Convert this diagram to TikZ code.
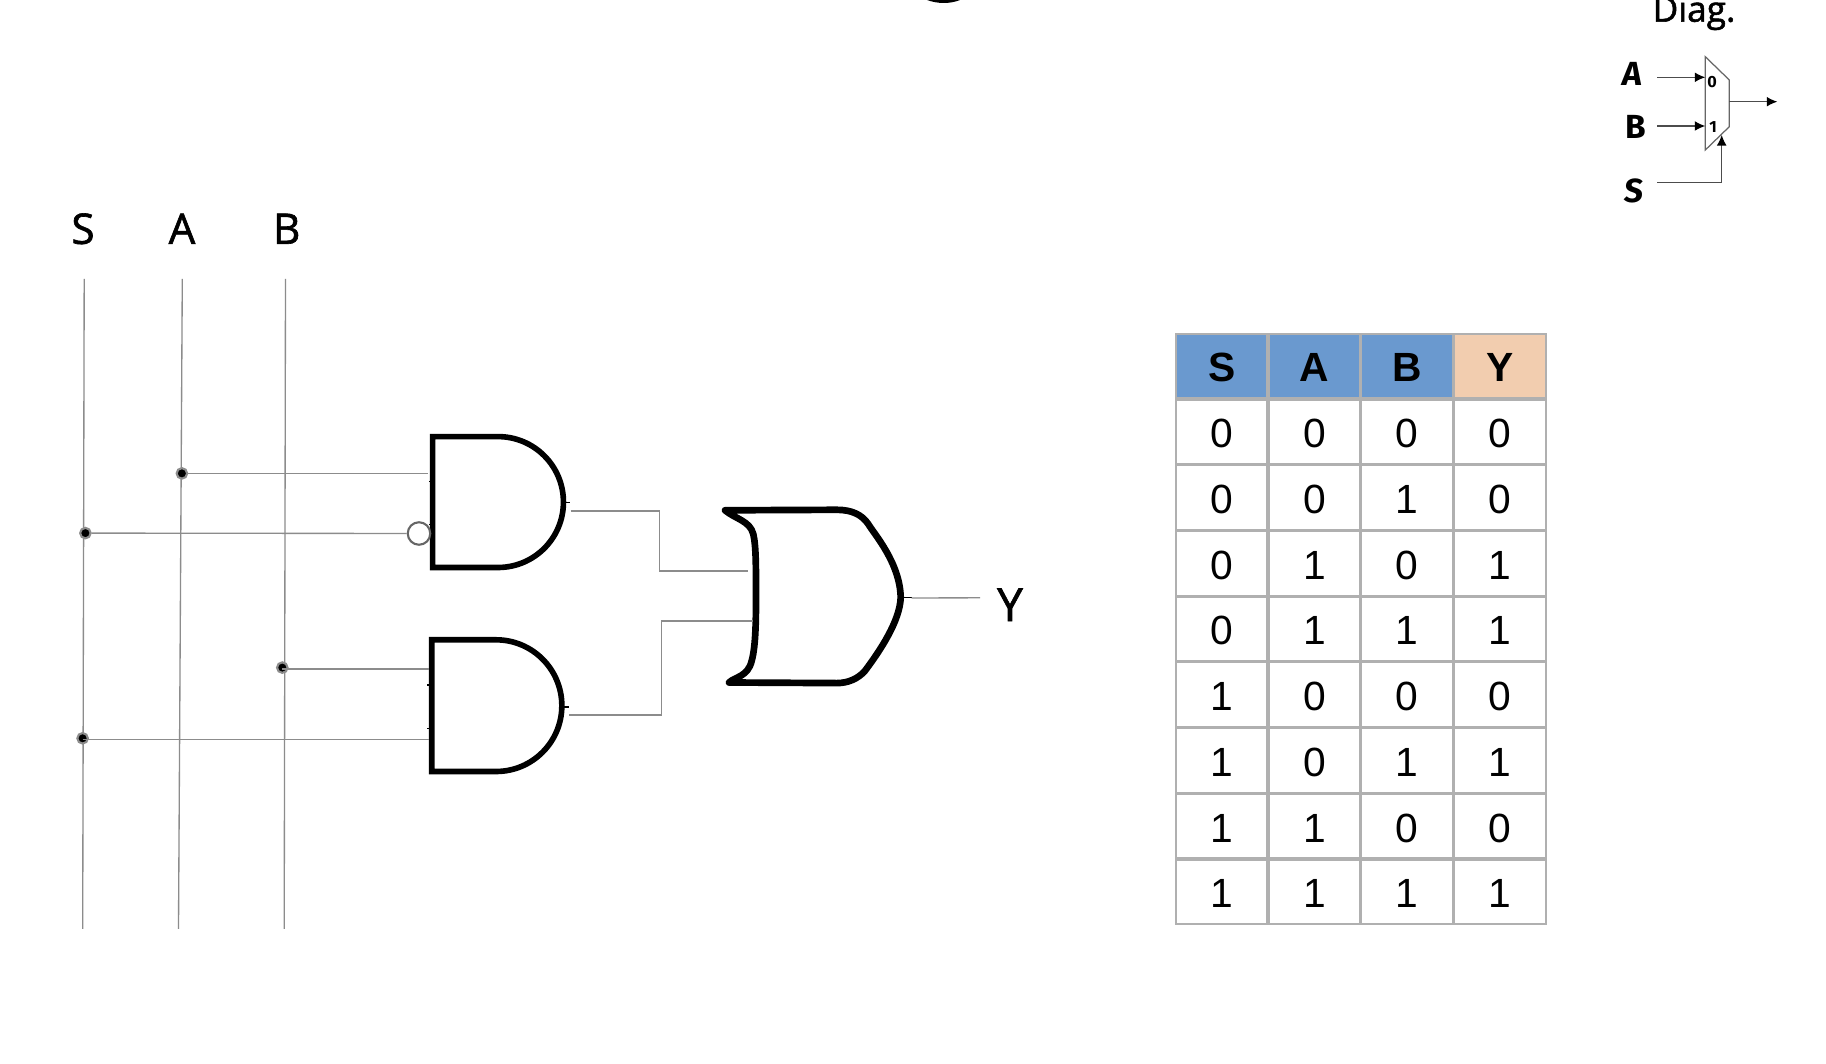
\documentclass[tikz,border=0pt]{standalone}
\usepackage{fontspec}
\newfontfamily\labelfont[RawFeature={embolden=1.5}]{Open Sans}
\newfontfamily\tablefont{Liberation Sans}
\newfontfamily\muxfont{Fira Sans}
\usetikzlibrary{arrows.meta, matrix}
\definecolor{headblue}{HTML}{6A99CF}
\definecolor{headtan}{HTML}{F2CDAF}
\definecolor{wiregray}{HTML}{8C8C8C}
\definecolor{cellgray}{HTML}{B0B0B0}
\tikzset{
	wire/.style = {draw = wiregray, line width = 0.38pt},
	gate/.style = {draw = black, line width = 1.6pt, line join = miter},
	orgate/.style = {draw = black, line width = 1.9pt, line join = round},
	tick/.style = {draw = black, line width = 0.4pt},
	joint/.style = {circle, fill = black, draw = black!45, line width = 0.6pt, inner sep = 0, minimum size = 0.105 cm},
	bubble/.style = {circle, draw = black!60, line width = 0.6pt, fill = white, inner sep = 0, minimum size = 0.225 cm},
	biglabel/.style = {font = \labelfont\fontsize{12}{14}\selectfont},
	muxlabel/.style = {font = \muxfont\bfseries\fontsize{9.5}{11}\selectfont},
	muxpin/.style = {font = \muxfont\bfseries\fontsize{4.6}{6}\selectfont, inner sep = 0},
	muxarrow/.style = {draw = black!70, line width = 0.35pt, -{Latex[length = 3pt, width = 2.8pt, black]}},
}
\begin{document}
\begin{tikzpicture}[x = 0.01 cm, y = -0.01 cm]
		\useasboundingbox (0, 0) rectangle (1826, 1064);
		\clip (0, 0) rectangle (1826, 1064);
		\fill[white] (0, 0) rectangle (1826, 1064);
		% clipped title and small symbol
		\fill (927, 0) .. controls (938, 4) and (950, 4) .. (960, 0) -- cycle;
		\node[font = \labelfont\fontsize{10}{12}\selectfont, anchor = base] (diag) at (1694, 21.7) {Diag.};
		\node[muxlabel, xslant = 0.1] (muxA) at (1632.7, 74) {A};
		\node[muxlabel] (muxB) at (1635.3, 126.7) {B};
		\node[muxlabel, xslant = 0.1] (muxS) at (1634, 190.7) {S};
		\draw[draw = black!60, line width = 0.35pt] (1705.3, 56.7) -- (1729.3, 80) -- (1729.3, 126.7) -- (1705.3, 150) -- cycle;
		\node[muxpin] (pin0) at (1712, 81.7) {0};
		\node[muxpin] (pin1) at (1713, 126.7) {1};
		\coordinate (muxAin) at (1657.3, 77.3);
		\coordinate (muxAend) at (1705.3, 77.3);
		\coordinate (muxBin) at (1657.3, 126);
		\coordinate (muxBend) at (1705.3, 126);
		\coordinate (muxSin) at (1657.3, 182.7);
		\coordinate (muxSend) at (1721.7, 135);
		\coordinate (muxOut) at (1729.3, 101.7);
		\coordinate (muxOutend) at (1777.3, 101.7);
		\draw[muxarrow] (muxAin) -- (muxAend);
		\draw[muxarrow] (muxBin) -- (muxBend);
		\draw[muxarrow] (muxOut) -- (muxOutend);
		\draw[muxarrow] (muxSin) -| (muxSend);
		\begin{scope} [yshift = -0.008 cm]
		% input rails
		\node[biglabel] (labelS) at (83, 228) {S};
		\node[biglabel] (labelA) at (182, 228) {A};
		\node[biglabel] (labelB) at (286.7, 228) {B};
		\coordinate (railStop) at (84.2, 278);
		\coordinate (railSbot) at (82.7, 928);
		\coordinate (railAtop) at (182.3, 278);
		\coordinate (railAbot) at (178.5, 928);
		\coordinate (railBtop) at (285.5, 278);
		\coordinate (railBbot) at (284.2, 928);
		\draw[wire] (railStop) -- (railSbot);
		\draw[wire] (railAtop) -- (railAbot);
		\draw[wire] (railBtop) -- (railBbot);
		% gates
		\draw[gate] (432.6, 435.8) -- (498, 435.8) arc[start angle = -90, end angle = 90, radius = 65.45] -- (432.6, 566.7) -- cycle;
		\draw[gate] (431.8, 639) -- (496, 639) arc[start angle = -90, end angle = 90, radius = 65.85] -- (431.8, 770.7) -- cycle;
		\draw[orgate] (725, 509.5) -- (836.7, 509)
			.. controls (852, 509) and (862, 514) .. (868.3, 523.3)
			.. controls (874, 533) and (900, 562) .. (900.7, 596.7)
			.. controls (900, 620) and (880, 650) .. (865, 670)
			.. controls (858, 678) and (848, 682.3) .. (836.7, 682.3)
			-- (729, 681.7)
			.. controls (735, 676) and (748, 676) .. (751.7, 660)
			.. controls (756, 645) and (756, 615) .. (756, 593)
			.. controls (756, 565) and (756, 545) .. (753.3, 533.3)
			.. controls (750, 520) and (735, 518) .. (725, 509.5) -- cycle;
		% stubs left on the gates
		\draw[tick] (429, 480.5) -- (431, 480.5);
		\draw[tick] (429, 524) -- (431, 524);
		\draw[tick] (427, 684) -- (430, 684);
		\draw[tick] (427, 727.6) -- (430, 727.6);
		\draw[tick] (565, 502) -- (570, 502);
		\draw[tick] (564, 706.3) -- (568.6, 706.3);
		\draw[tick] (903, 596.7) -- (911.7, 596.7);
		% wires
		\node[joint] (dotA) at (181.9, 472.6) {};
		\node[joint] (dotS) at (85.4, 532.3) {};
		\node[joint] (dotB) at (282.3, 666.8) {};
		\node[joint] (dotSS) at (82.6, 737.5) {};
		\node[bubble] (invert) at (419, 532.7) {};
		\coordinate (andAin) at (427.8, 472.6);
		\coordinate (andBin) at (429, 668.3);
		\coordinate (andSin) at (429, 738.7);
		\coordinate (topOut) at (570.7, 510.3);
		\coordinate (topIn) at (748, 570.3);
		\coordinate (botOut) at (569, 714.3);
		\coordinate (botIn) at (752.7, 620.3);
		\coordinate (orOut) at (911.7, 597.2);
		\node[font = \labelfont\fontsize{13}{15}\selectfont] (labelY) at (1010, 604) {Y};
		\draw[wire] (dotA) -- (andAin);
		\draw[wire] (dotS) -- (invert);
		\draw[wire] (dotB |- andBin) -- (andBin);
		\draw[wire] (dotSS |- andSin) -- (andSin);
		\draw[wire] (topOut) -- (659.3, 510.3) -- (659.3, 570.3) -- (topIn);
		\draw[wire] (botOut) -- (661.3, 714.3) -- (661.3, 620.3) -- (botIn);
		\draw[wire] (orOut) -- (980, 597);
		\end{scope}
		% truth table
		\matrix (truth) [
			anchor = north west, inner sep = 0, column sep = 0, row sep = 0,
			nodes = {draw = cellgray, line width = 0.45pt, minimum width = 0.912 cm, minimum height = 0.641 cm, inner sep = 0, outer sep = 0, text height = 9pt, text depth = 0pt, font = \tablefont\fontsize{11.6}{13}\selectfont},
			row 1/.style = {nodes = {fill = headblue, font = \tablefont\bfseries\fontsize{11.6}{13}\selectfont}},
			row 1 column 4/.style = {nodes = {fill = headtan}},
		] at (1174.5, 332.6) {
			\node (hS) {S}; &
			\node (hA) {A}; &
			\node (hB) {B}; &
			\node (hY) {Y}; \\
			\node (r1S) {0}; &
			\node (r1A) {0}; &
			\node (r1B) {0}; &
			\node (r1Y) {0}; \\
			\node (r2S) {0}; &
			\node (r2A) {0}; &
			\node (r2B) {1}; &
			\node (r2Y) {0}; \\
			\node (r3S) {0}; &
			\node (r3A) {1}; &
			\node (r3B) {0}; &
			\node (r3Y) {1}; \\
			\node (r4S) {0}; &
			\node (r4A) {1}; &
			\node (r4B) {1}; &
			\node (r4Y) {1}; \\
			\node (r5S) {1}; &
			\node (r5A) {0}; &
			\node (r5B) {0}; &
			\node (r5Y) {0}; \\
			\node (r6S) {1}; &
			\node (r6A) {0}; &
			\node (r6B) {1}; &
			\node (r6Y) {1}; \\
			\node (r7S) {1}; &
			\node (r7A) {1}; &
			\node (r7B) {0}; &
			\node (r7Y) {0}; \\
			\node (r8S) {1}; &
			\node (r8A) {1}; &
			\node (r8B) {1}; &
			\node (r8Y) {1}; \\
		};
	\end{tikzpicture}
\end{document}
